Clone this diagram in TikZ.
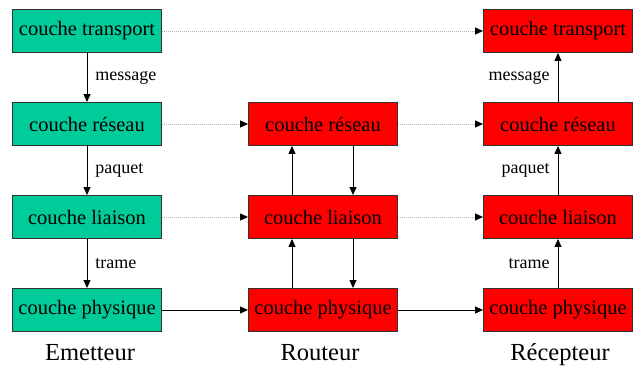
\documentclass[tikz,border=0pt]{standalone}
\usepackage{fontspec}
\setmainfont{Liberation Serif}
\usetikzlibrary{arrows.meta}
\definecolor{emgreen}{RGB}{0,204,153}
\definecolor{boxborder}{RGB}{50,50,50}
\begin{document}
\begin{tikzpicture}[x=1pt,y=-1pt,
  layer/.style={draw=boxborder, line width=0.9pt, minimum width=149pt, minimum height=43pt, inner sep=0pt,
    font=\fontsize{20.5}{22}\selectfont},
  sender/.style={layer, fill=emgreen},
  receiver/.style={layer, fill=red},
  tip/.style={-{Triangle[length=8pt,width=7pt]}},
  conn/.style={tip, line width=0.9pt, black},
  dotconn/.style={-{Triangle[length=8pt,width=7pt,fill=black,color=black]}, draw=gray!60, dash pattern=on 1pt off 1pt, line width=0.9pt},
  lbl/.style={font=\fontsize{18}{20}\selectfont, inner sep=0pt},
  title/.style={font=\fontsize{24.5}{26}\selectfont, inner sep=0pt, anchor=base}]
\useasboundingbox (0,0) rectangle (635,365);
% sender
\node[sender] (et) at (87,31) {couche transport};
\node[sender] (er) at (87,124) {couche réseau};
\node[sender] (el) at (87,217) {couche liaison};
\node[sender] (ep) at (87,310) {couche physique};
% router
\node[receiver] (rr) at (323,124) {couche réseau};
\node[receiver] (rl) at (323,217) {couche liaison};
\node[receiver] (rp) at (323,310) {couche physique};
% receiver
\node[receiver] (ct) at (558,31) {couche transport};
\node[receiver] (cr) at (558,124) {couche réseau};
\node[receiver] (cl) at (558,217) {couche liaison};
\node[receiver] (cp) at (558,310) {couche physique};
% sender down arrows
\draw[conn] (et) -- (er) node[lbl, midway, right=8pt] {message};
\draw[conn] (er) -- (el) node[lbl, midway, right=8pt] {paquet};
\draw[conn] (el) -- (ep) node[lbl, midway, right=8pt] {trame};
% receiver up arrows
\draw[conn] (cr) -- (ct) node[lbl, midway, left=8pt] {message};
\draw[conn] (cl) -- (cr) node[lbl, midway, left=8pt] {paquet};
\draw[conn] (cp) -- (cl) node[lbl, midway, left=8pt] {trame};
% router arrows
\draw[conn] ([xshift=-31pt]rl.north) -- ([xshift=-31pt]rr.south);
\draw[conn] ([xshift=30pt]rr.south) -- ([xshift=30pt]rl.north);
\draw[conn] ([xshift=-31pt]rp.north) -- ([xshift=-31pt]rl.south);
\draw[conn] ([xshift=30pt]rl.south) -- ([xshift=30pt]rp.north);
% horizontal
\draw[dotconn] (et) -- (ct);
\draw[dotconn] (er) -- (rr);
\draw[dotconn] (rr) -- (cr);
\draw[dotconn] (el) -- (rl);
\draw[dotconn] (rl) -- (cl);
\draw[conn] (ep) -- (rp);
\draw[conn] (rp) -- (cp);
% titles
\node[title] (t1) at (90,360) {Emetteur};
\node[title] (t2) at (320,360) {Routeur};
\node[title] (t3) at (560,360) {Récepteur};
\end{tikzpicture}
\end{document}
